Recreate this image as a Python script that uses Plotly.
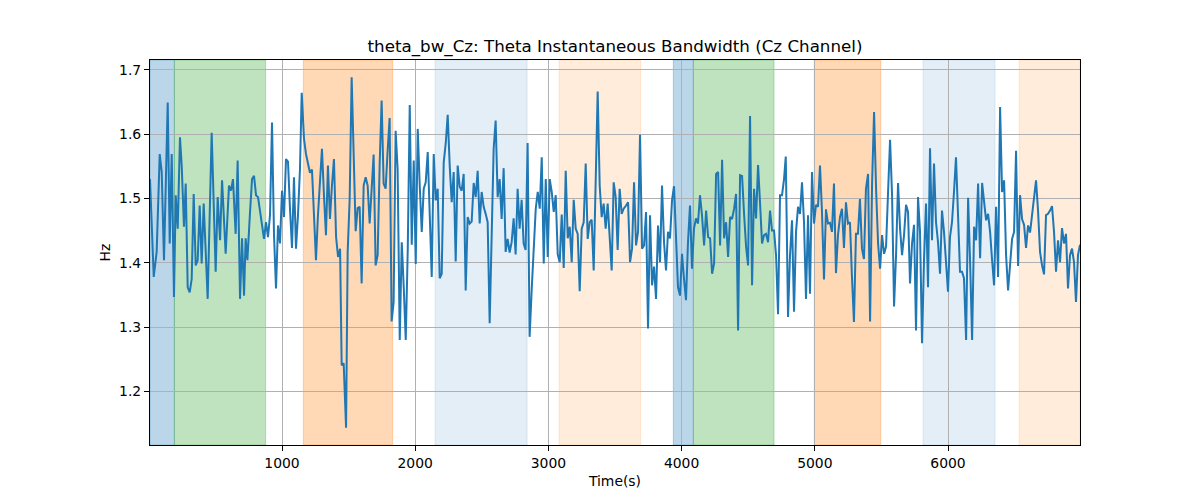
import plotly.graph_objects as go

time_s = [
    9, 37, 59, 82, 97, 114, 142, 157, 172, 189, 202, 217, 234, 247, 264, 277, 292, 307, 322, 337,
    352, 367, 382, 397, 412, 442, 472, 502, 517, 535, 550, 577, 602, 617, 632, 652, 667, 685, 700, 715,
    727, 740, 760, 775, 790, 805, 820, 835, 850, 865, 880, 895, 910, 925, 940, 955, 970, 985, 1000, 1015,
    1030, 1045, 1060, 1075, 1090, 1105, 1120, 1135, 1148, 1165, 1180, 1195, 1210, 1225, 1240, 1255, 1270, 1285, 1300, 1315,
    1330, 1345, 1360, 1375, 1390, 1406, 1421, 1436, 1448, 1463, 1481, 1493, 1508, 1523, 1538, 1553, 1568, 1583, 1598, 1613,
    1628, 1643, 1658, 1673, 1688, 1703, 1718, 1733, 1748, 1763, 1778, 1793, 1808, 1823, 1838, 1853, 1868, 1884, 1899, 1914,
    1929, 1944, 1959, 1974, 1989, 2004, 2019, 2034, 2049, 2064, 2079, 2094, 2109, 2124, 2139, 2154, 2169, 2184, 2199, 2214,
    2229, 2244, 2259, 2274, 2289, 2304, 2319, 2334, 2349, 2364, 2379, 2394, 2409, 2424, 2439, 2454, 2469, 2484, 2499, 2514,
    2529, 2544, 2559, 2574, 2589, 2604, 2619, 2634, 2649, 2664, 2679, 2694, 2709, 2724, 2739, 2754, 2769, 2784, 2799, 2814,
    2829, 2844, 2859, 2875, 2890, 2905, 2920, 2935, 2950, 2965, 2980, 2995, 3010, 3025, 3040, 3055, 3070, 3085, 3100, 3115,
    3130, 3145, 3160, 3175, 3190, 3205, 3220, 3235, 3250, 3265, 3280, 3295, 3310, 3325, 3340, 3355, 3370, 3385, 3400, 3415,
    3430, 3445, 3460, 3475, 3490, 3505, 3520, 3535, 3550, 3565, 3583, 3598, 3613, 3628, 3643, 3658, 3673, 3688, 3703, 3718,
    3733, 3748, 3763, 3778, 3793, 3808, 3823, 3838, 3853, 3868, 3883, 3898, 3913, 3928, 3943, 3958, 3973, 3988, 4003, 4018,
    4033, 4048, 4063, 4078, 4093, 4108, 4123, 4138, 4153, 4169, 4184, 4199, 4214, 4229, 4244, 4259, 4274, 4289, 4304, 4319,
    4334, 4349, 4364, 4379, 4394, 4409, 4424, 4439, 4454, 4469, 4484, 4499, 4514, 4529, 4544, 4559, 4574, 4589, 4604, 4619,
    4634, 4649, 4664, 4679, 4694, 4709, 4724, 4739, 4754, 4769, 4782, 4799, 4814, 4829, 4844, 4859, 4874, 4889, 4904, 4919,
    4934, 4949, 4964, 4979, 4994, 5009, 5024, 5039, 5054, 5069, 5084, 5099, 5114, 5129, 5144, 5159, 5174, 5189, 5204, 5219,
    5234, 5249, 5264, 5279, 5294, 5309, 5324, 5339, 5354, 5369, 5384, 5400, 5415, 5430, 5445, 5460, 5475, 5490, 5505, 5520,
    5535, 5550, 5565, 5580, 5595, 5610, 5625, 5640, 5655, 5670, 5685, 5700, 5715, 5730, 5745, 5760, 5775, 5790, 5805, 5820,
    5835, 5850, 5865, 5880, 5895, 5910, 5925, 5940, 5955, 5970, 5985, 6000, 6015, 6030, 6045, 6060, 6075, 6090, 6105, 6120,
    6136, 6151, 6166, 6181, 6196, 6211, 6226, 6241, 6256, 6271, 6286, 6301, 6316, 6331, 6346, 6361, 6376, 6391, 6406, 6421,
    6436, 6451, 6466, 6481, 6496, 6511, 6526, 6541, 6556, 6571, 6586, 6601, 6616, 6631, 6646, 6661, 6676, 6691, 6706, 6721,
    6736, 6751, 6766, 6781, 6796, 6811, 6826, 6841, 6856, 6871, 6886, 6901, 6916, 6931, 6946, 6961, 6976, 6991,
]

theta_bw = [
    1.53, 1.378, 1.417, 1.569, 1.541, 1.404, 1.649, 1.430, 1.569, 1.347, 1.505, 1.453, 1.595, 1.551, 1.456, 1.523, 1.362, 1.354, 1.375, 1.507,
    1.396, 1.404, 1.489, 1.399, 1.492, 1.344, 1.602, 1.386, 1.502, 1.435, 1.528, 1.414, 1.520, 1.512, 1.530, 1.445, 1.559, 1.344, 1.438, 1.349,
    1.438, 1.404, 1.479, 1.530, 1.535, 1.505, 1.502, 1.479, 1.461, 1.437, 1.463, 1.440, 1.474, 1.618, 1.443, 1.360, 1.458, 1.430, 1.512, 1.471,
    1.561, 1.557, 1.484, 1.423, 1.533, 1.422, 1.474, 1.546, 1.664, 1.593, 1.569, 1.556, 1.540, 1.545, 1.474, 1.404, 1.474, 1.520, 1.577, 1.505,
    1.443, 1.551, 1.468, 1.520, 1.561, 1.440, 1.409, 1.422, 1.241, 1.244, 1.144, 1.417, 1.499, 1.688, 1.556, 1.449, 1.485, 1.487, 1.368, 1.520,
    1.533, 1.520, 1.461, 1.520, 1.568, 1.396, 1.412, 1.551, 1.652, 1.523, 1.515, 1.574, 1.625, 1.309, 1.339, 1.605, 1.546, 1.280, 1.432, 1.362,
    1.280, 1.420, 1.645, 1.428, 1.559, 1.398, 1.608, 1.520, 1.448, 1.515, 1.525, 1.572, 1.453, 1.378, 1.569, 1.497, 1.515, 1.376, 1.383, 1.556,
    1.585, 1.630, 1.551, 1.494, 1.541, 1.402, 1.551, 1.518, 1.512, 1.538, 1.357, 1.471, 1.461, 1.464, 1.524, 1.502, 1.543, 1.461, 1.510, 1.487,
    1.476, 1.463, 1.306, 1.448, 1.577, 1.621, 1.502, 1.530, 1.468, 1.547, 1.417, 1.437, 1.416, 1.432, 1.469, 1.413, 1.515, 1.453, 1.498, 1.430,
    1.420, 1.586, 1.285, 1.360, 1.432, 1.484, 1.510, 1.484, 1.564, 1.399, 1.530, 1.409, 1.530, 1.510, 1.479, 1.505, 1.413, 1.401, 1.475, 1.392,
    1.543, 1.438, 1.456, 1.401, 1.498, 1.453, 1.445, 1.356, 1.453, 1.463, 1.554, 1.437, 1.463, 1.467, 1.388, 1.520, 1.666, 1.520, 1.471, 1.492,
    1.453, 1.492, 1.448, 1.388, 1.525, 1.502, 1.420, 1.515, 1.476, 1.484, 1.489, 1.494, 1.401, 1.422, 1.525, 1.427, 1.448, 1.599, 1.422, 1.427,
    1.479, 1.298, 1.474, 1.365, 1.394, 1.344, 1.458, 1.401, 1.520, 1.432, 1.388, 1.448, 1.438, 1.497, 1.519, 1.448, 1.362, 1.349, 1.414, 1.375,
    1.342, 1.432, 1.489, 1.391, 1.453, 1.469, 1.461, 1.505, 1.474, 1.427, 1.481, 1.440, 1.438, 1.383, 1.399, 1.538, 1.541, 1.427, 1.560, 1.438,
    1.463, 1.409, 1.471, 1.468, 1.484, 1.507, 1.295, 1.536, 1.535, 1.476, 1.425, 1.396, 1.628, 1.365, 1.515, 1.469, 1.552, 1.492, 1.430, 1.443,
    1.445, 1.432, 1.481, 1.450, 1.450, 1.412, 1.320, 1.505, 1.505, 1.530, 1.565, 1.316, 1.412, 1.466, 1.324, 1.448, 1.487, 1.476, 1.525, 1.463,
    1.344, 1.474, 1.352, 1.541, 1.461, 1.490, 1.487, 1.551, 1.479, 1.374, 1.483, 1.461, 1.462, 1.448, 1.523, 1.384, 1.443, 1.471, 1.484, 1.423,
    1.494, 1.461, 1.463, 1.378, 1.308, 1.445, 1.445, 1.499, 1.422, 1.406, 1.515, 1.538, 1.309, 1.523, 1.634, 1.515, 1.430, 1.391, 1.443, 1.414,
    1.425, 1.510, 1.591, 1.505, 1.332, 1.412, 1.524, 1.453, 1.412, 1.443, 1.490, 1.479, 1.368, 1.430, 1.459, 1.295, 1.502, 1.448, 1.275, 1.405,
    1.492, 1.362, 1.578, 1.435, 1.554, 1.463, 1.432, 1.383, 1.481, 1.448, 1.401, 1.355, 1.440, 1.463, 1.510, 1.564, 1.476, 1.386, 1.386, 1.376,
    1.280, 1.501, 1.401, 1.280, 1.456, 1.435, 1.523, 1.407, 1.524, 1.494, 1.466, 1.476, 1.448, 1.404, 1.365, 1.487, 1.378, 1.642, 1.510, 1.528,
    1.412, 1.357, 1.401, 1.437, 1.448, 1.574, 1.395, 1.505, 1.468, 1.459, 1.423, 1.458, 1.447, 1.476, 1.502, 1.528, 1.481, 1.417, 1.396, 1.382,
    1.474, 1.476, 1.481, 1.488, 1.448, 1.386, 1.435, 1.401, 1.454, 1.430, 1.445, 1.360, 1.412, 1.422, 1.401, 1.339, 1.412, 1.428,
]

# shaded segments (time ranges) and their colours
span_start = [9, 192, 1160, 2149, 3080, 3938, 4088, 4996, 5813, 6534]
span_end = [192, 877, 1831, 2840, 3692, 4088, 4694, 5495, 6353, 6991]
span_color = [
    "rgba(31,119,180,0.3)", "rgba(44,160,44,0.3)", "rgba(255,127,14,0.3)", "rgba(31,119,180,0.12)",
    "rgba(255,127,14,0.15)", "rgba(31,119,180,0.3)", "rgba(44,160,44,0.3)", "rgba(255,127,14,0.3)",
    "rgba(31,119,180,0.12)", "rgba(255,127,14,0.15)",
]

x_ticks = [1000, 2000, 3000, 4000, 5000, 6000]
y_ticks = [1.2, 1.3, 1.4, 1.5, 1.6, 1.7]

font_family = "DejaVu Sans"

fig = go.Figure()
fig.add_trace(go.Scatter(
    x=time_s, y=theta_bw, mode="lines",
    line=dict(color="#1f77b4", width=2),
    showlegend=False,
))

for s, e, c in zip(span_start, span_end, span_color):
    fig.add_shape(type="rect", xref="x", yref="paper", x0=s, x1=e, y0=0, y1=1,
                  fillcolor=c, line=dict(color=c, width=1), layer="below")

axis_common = dict(
    showline=True, mirror=True, linecolor="black", linewidth=1.1,
    ticks="outside", ticklen=5, tickwidth=1.1, tickcolor="black",
    showgrid=True, gridcolor="#b0b0b0", gridwidth=1.1,
    zeroline=False,
    tickfont=dict(family=font_family, size=13.9, color="black"),
)

fig.update_layout(
    width=1200, height=500,
    margin=dict(l=142, r=128, t=52, b=63),
    plot_bgcolor="white", paper_bgcolor="white",
    font=dict(family=font_family, color="black"),
    title=dict(
        text="theta_bw_Cz: Theta Instantaneous Bandwidth (Cz Channel)",
        x=0.5, xanchor="center", xref="paper",
        y=1 - 38 / 500, yanchor="middle", yref="container",
        font=dict(family=font_family, size=16.7, color="black"),
    ),
    xaxis=dict(
        range=[time_s[0], time_s[-1]], tickvals=x_ticks,
        title=dict(text="Time(s)", font=dict(family=font_family, size=13.9), standoff=6),
        **axis_common,
    ),
    yaxis=dict(
        range=[1.117, 1.715], tickvals=y_ticks, tickformat=".1f",
        title=dict(text="Hz", font=dict(family=font_family, size=13.9), standoff=5),
        **axis_common,
    ),
)

fig.write_html("out.html")
